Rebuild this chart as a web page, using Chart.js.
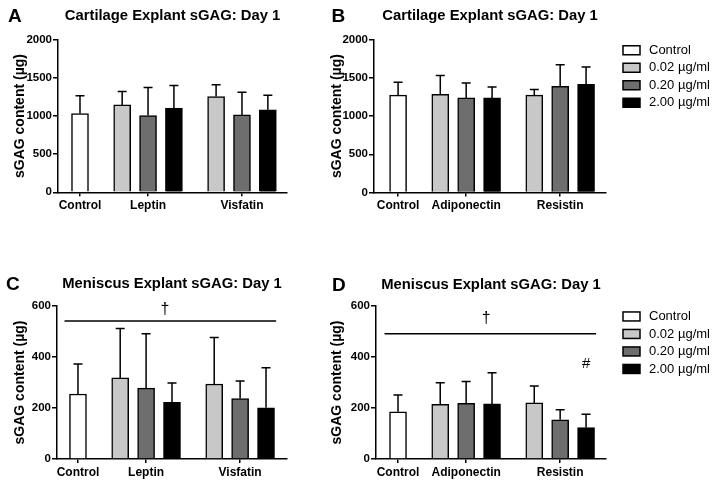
<!DOCTYPE html>
<html>
<head>
<meta charset="utf-8">
<script src="https://cdn.jsdelivr.net/npm/chart.js@4.4.1/dist/chart.umd.min.js"></script>
<style>
  html, body { margin: 0; padding: 0; background: #fff; }
  body { width: 714px; height: 485px; position: relative; overflow: hidden; }
  canvas { position: absolute; }
</style>
</head>
<body>
<canvas id="cA" width="300" height="240" style="left:0;top:0"></canvas>
<canvas id="cB" width="414" height="240" style="left:300px;top:0"></canvas>
<canvas id="cC" width="300" height="245" style="left:0;top:240px"></canvas>
<canvas id="cD" width="414" height="245" style="left:300px;top:240px"></canvas>
<script>
// ---------------- DATA ----------------
const seriesLabels = ['Control', '0.02 µg/ml', '0.20 µg/ml', '2.00 µg/ml'];

// Panel A: Cartilage, Leptin / Visfatin
const catsA = ['Control', 'Leptin', 'Visfatin'];
const ctrlMeanA = 1032, ctrlSdA = 233;
const leptinMeanA = [1146, 1006, 1103];
const leptinSdA = [175, 368, 297];
const visfatinMeanA = [1255, 1015, 1081];
const visfatinSdA = [154, 298, 193];

// Panel B: Cartilage, Adiponectin / Resistin
const catsB = ['Control', 'Adiponectin', 'Resistin'];
const ctrlMeanB = 1274, ctrlSdB = 169;
const adipoMeanB = [1287, 1239, 1239];
const adipoSdB = [244, 195, 143];
const resistinMeanB = [1274, 1391, 1417];
const resistinSdB = [74, 283, 226];

// Panel C: Meniscus, Leptin / Visfatin
const catsC = ['Control', 'Leptin', 'Visfatin'];
const ctrlMeanC = 255, ctrlSdC = 117;
const leptinMeanC = [318, 278, 222];
const leptinSdC = [194, 213, 76];
const visfatinMeanC = [294, 237, 201];
const visfatinSdC = [182, 69, 157];

// Panel D: Meniscus, Adiponectin / Resistin
const catsD = ['Control', 'Adiponectin', 'Resistin'];
const ctrlMeanD = 185, ctrlSdD = 66;
const adipoMeanD = [214, 218, 216];
const adipoSdD = [85, 86, 122];
const resistinMeanD = [220, 154, 123];
const resistinSdD = [66, 39, 52];

// Axis ticks
const yTicksCartilage = [0, 500, 1000, 1500, 2000];
const yTicksMeniscus = [0, 200, 400, 600];

// Significance annotations (y values)
const sigLineC = 541, daggerC = 584;
const sigLineD = 491, daggerD = 549, hashD = 372;

// ---------------- LAYOUT (slot positions on the x axis) ----------------
const SLOT_CTRL = 0;
const SLOT_G1 = [1.63, 2.63, 3.63];
const SLOT_G2 = [5.26, 6.26, 7.26];
const TICK_POS = [SLOT_CTRL, SLOT_G1[1], SLOT_G2[1]];
const FILLS = ['#ffffff', '#c8c8c8', '#6e6e6e', '#000000'];

Chart.defaults.font.family = '"Liberation Sans", Arial, Helvetica, sans-serif';
Chart.defaults.color = '#000';

function buildDatasets(ctrlMean, ctrlSd, g1Mean, g1Sd, g2Mean, g2Sd) {
  const ds = [{ label: seriesLabels[0], data: [{ x: SLOT_CTRL, y: ctrlMean }], sd: [ctrlSd], backgroundColor: FILLS[0] }];
  for (let k = 0; k < 3; k++) {
    ds.push({
      label: seriesLabels[k + 1],
      data: [{ x: SLOT_G1[k], y: g1Mean[k] }, { x: SLOT_G2[k], y: g2Mean[k] }],
      sd: [g1Sd[k], g2Sd[k]],
      backgroundColor: FILLS[k + 1]
    });
  }
  ds.forEach(d => Object.assign(d, { borderColor: '#000', borderWidth: 1.5, barThickness: 17, grouped: false }));
  return ds;
}

const decor = {
  id: 'panelDecor',
  afterDatasetsDraw(chart, args, o) {
    const ctx = chart.ctx, xs = chart.scales.x, ys = chart.scales.y;
    ctx.save();
    ctx.strokeStyle = '#000';
    ctx.lineWidth = 1.5;
    // error bars (mean + SD)
    chart.data.datasets.forEach((ds, i) => {
      chart.getDatasetMeta(i).data.forEach((bar, j) => {
        const base = ys.getPixelForValue(ds.data[j].y);
        const top = ys.getPixelForValue(ds.data[j].y + ds.sd[j]);
        ctx.beginPath();
        ctx.moveTo(bar.x, base); ctx.lineTo(bar.x, top);
        ctx.moveTo(bar.x - 4.5, top); ctx.lineTo(bar.x + 4.5, top);
        ctx.stroke();
      });
    });
    // significance line + marks
    if (o.sig) {
      const yy = ys.getPixelForValue(o.sig.value);
      ctx.beginPath();
      ctx.moveTo(xs.getPixelForValue(o.sig.from), yy);
      ctx.lineTo(xs.getPixelForValue(o.sig.to), yy);
      ctx.stroke();
      ctx.fillStyle = '#000';
      ctx.textAlign = 'center';
      ctx.textBaseline = 'middle';
      ctx.font = '16px "Liberation Sans", Arial, sans-serif';
      ctx.fillText('†', xs.getPixelForValue(o.sig.markX), ys.getPixelForValue(o.sig.markValue));
      if (o.hash) {
        ctx.font = '15px "Liberation Sans", Arial, sans-serif';
        ctx.fillText('#', xs.getPixelForValue(o.hash.x), ys.getPixelForValue(o.hash.value));
      }
    }
    ctx.restore();
  },
  afterDraw(chart, args, o) {
    const ctx = chart.ctx, ca = chart.chartArea;
    ctx.save();
    ctx.fillStyle = '#000';
    ctx.textBaseline = 'middle';
    ctx.textAlign = 'left';
    ctx.font = 'bold 19px "Liberation Sans", Arial, sans-serif';
    ctx.fillText(o.letter, o.letterX, o.letterY);
    if (o.legend) {
      ctx.font = '13px "Liberation Sans", Arial, sans-serif';
      chart.data.datasets.forEach((ds, i) => {
        const x0 = ca.right + 17;
        const yc = ca.top + 10.5 + i * 17.5;
        ctx.fillStyle = ds.backgroundColor;
        ctx.fillRect(x0, yc - 4.5, 17, 9);
        ctx.lineWidth = 1.5;
        ctx.strokeStyle = '#000';
        ctx.strokeRect(x0, yc - 4.5, 17, 9);
        ctx.fillStyle = '#000';
        ctx.fillText(ds.label, x0 + 26, yc);
      });
    }
    ctx.restore();
  }
};

function makeChart(id, c) {
  return new Chart(document.getElementById(id), {
    type: 'bar',
    data: { datasets: c.datasets },
    options: {
      responsive: false,
      animation: false,
      events: [],
      layout: { padding: c.padding },
      plugins: {
        legend: { display: false },
        tooltip: { enabled: false },
        title: {
          display: true, text: c.title, fullSize: false, color: '#000',
          font: { size: 14.8, weight: 'bold' }, padding: c.titlePad
        },
        panelDecor: c.decor
      },
      scales: {
        x: {
          type: 'linear', min: c.xMin, max: c.xMax, offset: false,
          afterBuildTicks: s => { s.ticks = TICK_POS.map(v => ({ value: v })); },
          afterFit: s => { s.height = 20; },
          ticks: {
            autoSkip: false, maxRotation: 0, padding: 2, color: '#000',
            font: { size: 12, weight: 'bold' },
            callback: (v, i) => c.cats[i]
          },
          grid: { display: true, drawOnChartArea: false, drawTicks: true, tickLength: 4, color: '#000', lineWidth: 1.5, offset: false },
          border: { display: true, color: '#000', width: 1.5 }
        },
        y: {
          min: 0, max: c.yTicks[c.yTicks.length - 1],
          afterBuildTicks: s => { s.ticks = c.yTicks.map(v => ({ value: v })); },
          afterFit: s => { s.width = c.yAxisW; },
          ticks: { padding: 1, color: '#000', font: { size: 11.5, weight: 'bold' }, callback: v => String(v) },
          grid: { display: true, drawOnChartArea: false, drawTicks: true, tickLength: 5, color: '#000', lineWidth: 1.5 },
          border: { display: true, color: '#000', width: 1.5 },
          title: { display: true, text: 'sGAG content (µg)', color: '#000', font: { size: 14, weight: 'bold' }, padding: { top: c.yTitlePad, bottom: 0 } }
        }
      }
    },
    plugins: [decor]
  });
}

makeChart('cA', {
  title: 'Cartilage Explant sGAG: Day 1', cats: catsA, yTicks: yTicksCartilage,
  datasets: buildDatasets(ctrlMeanA, ctrlSdA, leptinMeanA, leptinSdA, visfatinMeanA, visfatinSdA),
  padding: { left: 0, right: 13, top: 0, bottom: 27.7 }, titlePad: { top: 7, bottom: 15 },
  xMin: -0.85, xMax: 8.0, yAxisW: 58, yTitlePad: 11.5,
  decor: { letter: 'A', letterX: 8, letterY: 16.5 }
});
makeChart('cB', {
  title: 'Cartilage Explant sGAG: Day 1', cats: catsB, yTicks: yTicksCartilage,
  datasets: buildDatasets(ctrlMeanB, ctrlSdB, adipoMeanB, adipoSdB, resistinMeanB, resistinSdB),
  padding: { left: 0, right: 108, top: 0, bottom: 27.5 }, titlePad: { top: 7, bottom: 15 },
  xMin: -0.93, xMax: 8.03, yAxisW: 74, yTitlePad: 29,
  decor: { letter: 'B', letterX: 31.5, letterY: 16.5, legend: true }
});
makeChart('cC', {
  title: 'Meniscus Explant sGAG: Day 1', cats: catsC, yTicks: yTicksMeniscus,
  datasets: buildDatasets(ctrlMeanC, ctrlSdC, leptinMeanC, leptinSdC, visfatinMeanC, visfatinSdC),
  padding: { left: 0, right: 13, top: 28, bottom: 6 }, titlePad: { top: 7, bottom: 13.2 },
  xMin: -0.81, xMax: 8.07, yAxisW: 57, yTitlePad: 11.5,
  decor: { letter: 'C', letterX: 6, letterY: 44.5,
           sig: { value: sigLineC, from: -0.52, to: 7.65, markX: 3.36, markValue: daggerC } }
});
makeChart('cD', {
  title: 'Meniscus Explant sGAG: Day 1', cats: catsD, yTicks: yTicksMeniscus,
  datasets: buildDatasets(ctrlMeanD, ctrlSdD, adipoMeanD, adipoSdD, resistinMeanD, resistinSdD),
  padding: { left: 0, right: 108, top: 29, bottom: 6 }, titlePad: { top: 7, bottom: 12.2 },
  xMin: -0.85, xMax: 8.03, yAxisW: 76, yTitlePad: 29,
  decor: { letter: 'D', letterX: 32, letterY: 45.5, legend: true,
           sig: { value: sigLineD, from: -0.52, to: 7.65, markX: 3.4, markValue: daggerD },
           hash: { x: SLOT_G2[2], value: hashD } }
});
</script>
</body>
</html>
